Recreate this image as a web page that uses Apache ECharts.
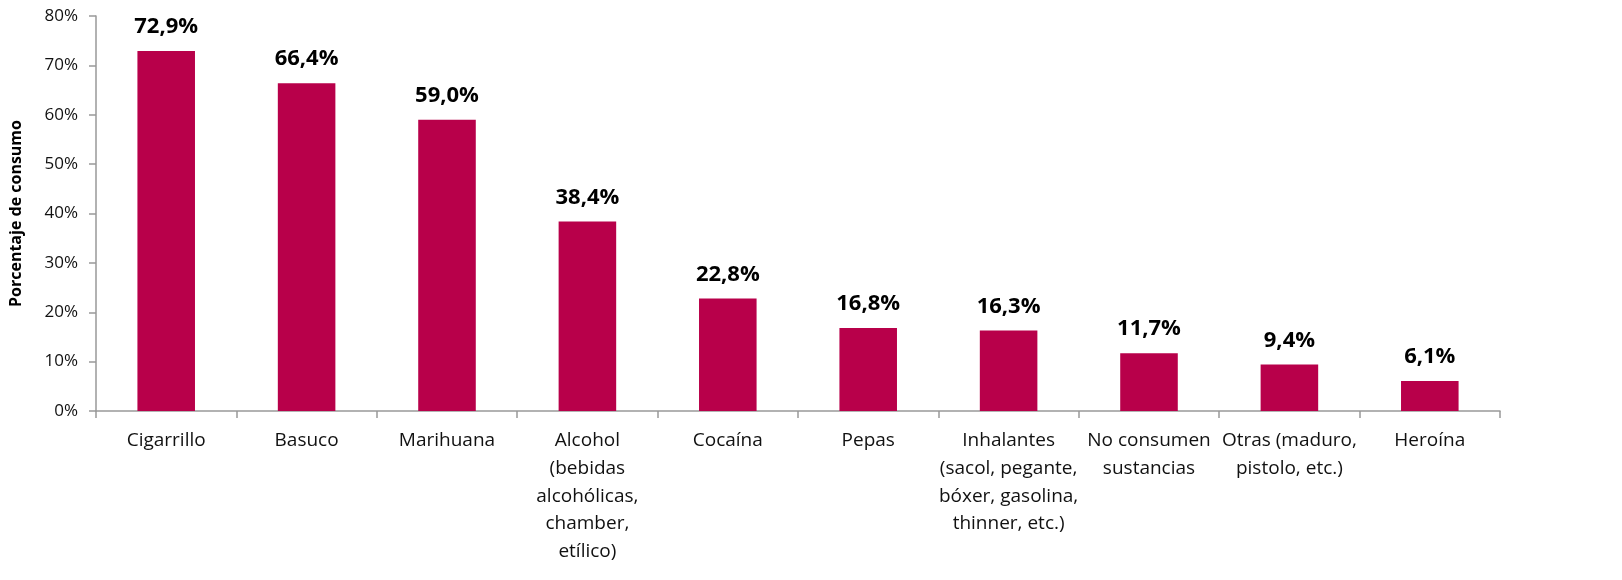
<!DOCTYPE html>
<html><head><meta charset="utf-8">
<script src="https://cdn.jsdelivr.net/npm/echarts@6/dist/echarts.min.js"></script>
<style>html,body{margin:0;padding:0;background:#fff}#c{width:1622px;height:580px}</style>
</head><body><div id="c"></div>
<script>
const categories = ["Cigarrillo","Basuco","Marihuana","Alcohol\n(bebidas\nalcohólicas,\nchamber,\netílico)","Cocaína","Pepas","Inhalantes\n(sacol, pegante,\nbóxer, gasolina,\nthinner, etc.)","No consumen\nsustancias","Otras (maduro,\npistolo, etc.)","Heroína"];
const values = [72.9,66.4,59.0,38.4,22.8,16.8,16.3,11.7,9.4,6.1];
const yTicks = [0,10,20,30,40,50,60,70,80];
const font = "'Open Sans', 'Noto Sans', sans-serif";
const chart = echarts.init(document.getElementById('c'));
chart.setOption({
  animation:false,
  grid:{left:92,right:122,top:16,bottom:169,containLabel:false},
  xAxis:{type:'category',data:categories,
    axisLine:{lineStyle:{color:'#999',width:1.5}},
    axisTick:{show:true,alignWithLabel:false,length:7,lineStyle:{color:'#999',width:1.5}},
    axisLabel:{color:'#111',fontFamily:font,fontSize:19,lineHeight:27.7,margin:16,interval:0}},
  yAxis:{type:'value',min:0,max:80,interval:10,
    name:'Porcentaje de consumo',nameLocation:'middle',nameGap:72,
    nameTextStyle:{fontFamily:font,fontSize:16,fontWeight:'bold',color:'#000'},
    axisLine:{show:true,lineStyle:{color:'#999',width:1.5}},
    axisTick:{show:true,length:7,lineStyle:{color:'#999',width:1.5}},
    splitLine:{show:false},
    axisLabel:{color:'#111',fontFamily:font,fontSize:17,margin:18,
      formatter:v=>yTicks.includes(v)?v+'%':''}},
  series:[{type:'bar',data:values,barWidth:'41%',
    itemStyle:{color:'#B8004A'},
    label:{show:true,position:'top',distance:13,color:'#000',fontFamily:font,fontSize:22,fontWeight:'bold',
      formatter:p=>p.value.toFixed(1).replace('.',',')+'%'}}]
});
</script></body></html>
